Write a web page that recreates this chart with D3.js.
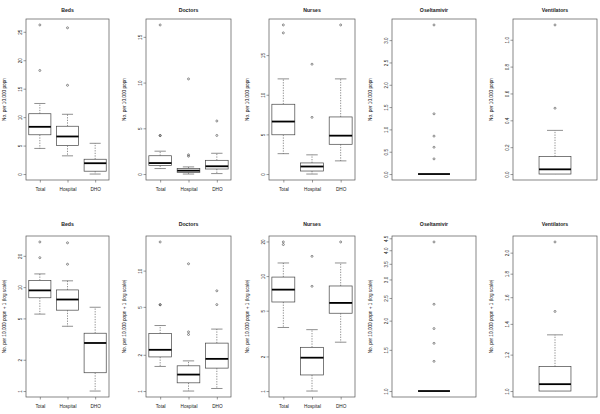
<!DOCTYPE html>
<html>
<head>
<meta charset="utf-8">
<script src="https://cdn.jsdelivr.net/npm/d3@7"></script>
<style>
body { margin: 0; background: #fff; }
text { font-family: "Liberation Sans", Arial, sans-serif; fill: #222; }
</style>
</head>
<body>
<div id="chart"></div>
<script>
// one panel per measure, top row linear, bottom row log(x+1)
const measures = ["Beds", "Doctors", "Nurses", "Oseltamivir", "Ventilators"];
const groups = ["Total", "Hospital", "DHO"];

// box stats per group: [lower whisker, Q1, median, Q3, upper whisker]
const bedsStats = [[4.5, 6.9, 8.3, 10.6, 12.4], [3.2, 5.0, 6.6, 8.4, 10.5], [0, 0.5, 1.9, 2.6, 5.4]];
const bedsOut = [[26.2, 18.2], [25.7, 15.6], []];
const doctorsStats = [[0.6, 0.92, 1.2, 2.0, 2.5], [0, 0.17, 0.37, 0.62, 0.78], [0.05, 0.55, 0.85, 1.5, 2.27]];
const doctorsOut = [[16.3, 4.2, 4.22], [10.4, 2.1, 1.95], [5.8, 4.22]];
const nursesStats = [[2.57, 4.95, 6.62, 8.8, 12.0], [0, 0.38, 0.95, 1.4, 2.42], [1.66, 3.75, 4.84, 7.2, 12.0]];
const nursesOut = [[18.8, 17.8], [13.85, 7.15], [18.8]];
const oseltamivirStats = [[0, 0, 0, 0, 0]];
const oseltamivirOut = [[3.34, 1.35, 0.85, 0.6, 0.34]];
const ventilatorsStats = [[0, 0, 0.035, 0.13, 0.325]];
const ventilatorsOut = [[1.11, 0.49]];

const allStats = [bedsStats, doctorsStats, nursesStats, oseltamivirStats, ventilatorsStats];
const allOut = [bedsOut, doctorsOut, nursesOut, oseltamivirOut, ventilatorsOut];

const linTicks = [[0, 5, 10, 15, 20, 25], [0, 5, 10, 15], [0, 5, 10, 15], [0, 0.5, 1, 1.5, 2, 2.5, 3], [0, 0.2, 0.4, 0.6, 0.8, 1]];
const logTicks = [[1, 2, 5, 10, 20], [1, 2, 5, 10], [1, 2, 5, 10, 20], [1, 1.5, 2, 2.5, 3, 3.5, 4, 4.5], [1, 1.2, 1.4, 1.6, 1.8, 2]];
const tickDigits = [0, 0, 0, 1, 1];

const yTitleTop = "No. per 10,000 popn";
const yTitleBottom = "No. per 10,000 popn + 1 (log scale)";

const width = 600, height = 414;
const colLeft = [26, 146, 269, 392, 513];
const colRight = [109, 231, 355, 476, 597];
const rows = [{top: 19, bottom: 180, title: 11.8}, {top: 236, bottom: 397, title: 226}];

const svg = d3.select("#chart").append("svg")
    .attr("width", width)
    .attr("height", height);

function drawPanel(i, isLog) {
    const row = rows[isLog ? 1 : 0];
    const left = colLeft[i], right = colRight[i];
    const stats = allStats[i], outs = allOut[i];
    const n = stats.length;

    let vals = [];
    stats.forEach(s => vals = vals.concat(s));
    outs.forEach(o => vals = vals.concat(o));
    let lo = d3.min(vals), hi = d3.max(vals);

    let y, yv;
    if (isLog) {
        let a = Math.log10(lo + 1), b = Math.log10(hi + 1), pad = (b - a) * 0.04;
        y = d3.scaleLog().domain([Math.pow(10, a - pad), Math.pow(10, b + pad)]).range([row.bottom, row.top]);
        yv = v => y(v + 1);
    } else {
        let pad = (hi - lo) * 0.04;
        y = d3.scaleLinear().domain([lo - pad, hi + pad]).range([row.bottom, row.top]);
        yv = v => y(v);
    }

    const x = d3.scaleLinear().domain([0.5, n + 0.5]).range([left, right]);
    const half = n > 1 ? 0.4 : 0.19;

    const g = svg.append("g");

    // title
    g.append("text")
        .attr("x", (left + right) / 2)
        .attr("y", row.title)
        .attr("text-anchor", "middle")
        .attr("font-size", 5.2)
        .attr("font-weight", "bold")
        .text(measures[i]);

    // y axis
    const yAxis = g.append("g")
        .attr("transform", `translate(${left},0)`)
        .call(d3.axisLeft(y)
            .tickValues(isLog ? logTicks[i] : linTicks[i])
            .tickSize(2.5)
            .tickFormat(d => d.toFixed(tickDigits[i])));
    yAxis.select(".domain").remove();
    yAxis.selectAll(".tick line").attr("stroke", "#555").attr("stroke-width", 0.6);
    yAxis.selectAll(".tick text")
        .attr("x", 0).attr("dy", null)
        .attr("transform", "translate(-5.5,0) rotate(-90)")
        .attr("text-anchor", "middle")
        .attr("dominant-baseline", "central")
        .attr("font-size", 4.6)
        .attr("fill", "#444");

    g.append("text")
        .attr("transform", `translate(${left - 21.5},${(row.top + row.bottom) / 2}) rotate(-90)`)
        .attr("text-anchor", "middle")
        .attr("dominant-baseline", "central")
        .attr("font-size", 4.7)
        .attr("fill", "#333")
        .text(isLog ? yTitleBottom : yTitleTop);

    // x axis only for the grouped panels
    if (n > 1) {
        const xAxis = g.append("g")
            .attr("transform", `translate(0,${row.bottom})`)
            .call(d3.axisBottom(x)
                .tickValues(d3.range(1, n + 1))
                .tickSize(2.5)
                .tickPadding(4.9)
                .tickFormat(d => groups[d - 1]));
        xAxis.select(".domain").remove();
        xAxis.selectAll(".tick line").attr("stroke", "#555").attr("stroke-width", 0.6);
        xAxis.selectAll(".tick text").attr("font-size", 4.7).attr("fill", "#222");
    }

    // boxes
    stats.forEach((s, k) => {
        const cx = x(k + 1);
        const bx0 = x(k + 1 - half), bx1 = x(k + 1 + half);
        const sx0 = x(k + 1 - half / 2), sx1 = x(k + 1 + half / 2);
        const bg = g.append("g").attr("stroke", "#444").attr("fill", "none");

        // whiskers
        bg.append("line").attr("x1", cx).attr("x2", cx).attr("y1", yv(s[3])).attr("y2", yv(s[4]))
            .attr("stroke-width", 0.6).attr("stroke-dasharray", "1.3,1.3");
        bg.append("line").attr("x1", cx).attr("x2", cx).attr("y1", yv(s[1])).attr("y2", yv(s[0]))
            .attr("stroke-width", 0.6).attr("stroke-dasharray", "1.3,1.3");
        if (s[4] > s[3]) {
            bg.append("line").attr("x1", sx0).attr("x2", sx1).attr("y1", yv(s[4])).attr("y2", yv(s[4])).attr("stroke-width", 0.6);
        }
        if (s[0] < s[1]) {
            bg.append("line").attr("x1", sx0).attr("x2", sx1).attr("y1", yv(s[0])).attr("y2", yv(s[0])).attr("stroke-width", 0.6);
        }
        bg.append("rect")
            .attr("x", bx0).attr("width", bx1 - bx0)
            .attr("y", yv(s[3])).attr("height", yv(s[1]) - yv(s[3]))
            .attr("fill", "#fff").attr("stroke-width", 0.7);
        bg.append("line").attr("x1", bx0).attr("x2", bx1).attr("y1", yv(s[2])).attr("y2", yv(s[2]))
            .attr("stroke", "#000").attr("stroke-width", 1.8);

        bg.selectAll("circle")
            .data(outs[k])
            .enter().append("circle")
            .attr("cx", cx)
            .attr("cy", d => yv(d))
            .attr("r", 1)
            .attr("stroke-width", 0.6);
    });

    // frame
    g.append("rect")
        .attr("x", left).attr("y", row.top)
        .attr("width", right - left).attr("height", row.bottom - row.top)
        .attr("fill", "none").attr("stroke", "#555").attr("stroke-width", 0.7);
}

for (let i = 0; i < measures.length; i++) {
    drawPanel(i, false);
    drawPanel(i, true);
}
</script>
</body>
</html>
